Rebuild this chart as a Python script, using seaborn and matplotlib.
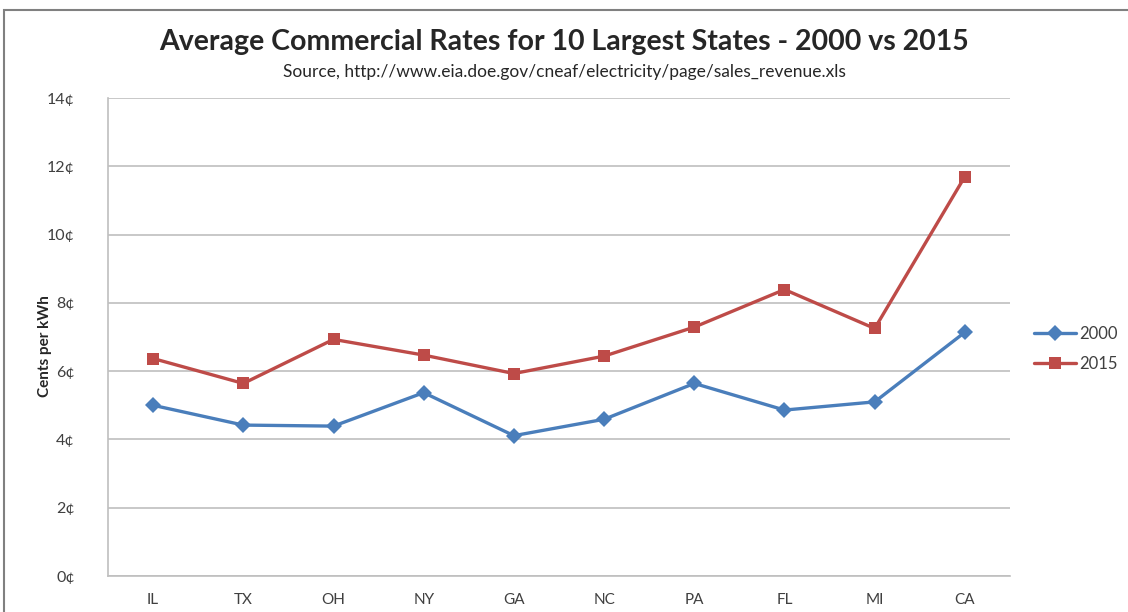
import numpy as np
import pandas as pd
from matplotlib import pyplot as plt
from matplotlib.patches import Rectangle
import seaborn as sns

states = ['IL', 'TX', 'OH', 'NY', 'GA', 'NC', 'PA', 'FL', 'MI', 'CA']
rates_2000 = [5.00, 4.42, 4.39, 5.37, 4.11, 4.59, 5.64, 4.86, 5.10, 7.14]
rates_2015 = [6.37, 5.64, 6.93, 6.47, 5.93, 6.44, 7.29, 8.39, 7.25, 11.70]
y_ticks = [0, 2, 4, 6, 8, 10, 12, 14]

df = pd.DataFrame({'State': states * 2,
                   'Rate': rates_2000 + rates_2015,
                   'Year': ['2000'] * 10 + ['2015'] * 10})

sns.set_style('white')
plt.rcParams['font.family'] = ['Lato', 'DejaVu Sans']

fig = plt.figure(figsize=(11.28, 6.12), dpi=100)
ax = fig.add_axes([108 / 1128, 1 - 576 / 612, 902 / 1128, 478 / 612])

palette = {'2000': '#4A7EBB', '2015': '#BE4B48'}
sns.lineplot(data=df, x='State', y='Rate', hue='Year', style='Year',
             markers={'2000': 'D', '2015': 's'}, dashes=False,
             palette=palette, linewidth=2.4, markersize=8.5,
             markeredgewidth=0, sort=False, ax=ax)

ax.set_xlim(-0.5, 9.5)
ax.set_ylim(0, 14)
ax.set_yticks(y_ticks)
ax.set_yticklabels([f'{t}¢' for t in y_ticks], fontsize=11.5, color='#404040')
ax.tick_params(axis='x', labelsize=11, colors='#404040', length=0, pad=12)
ax.tick_params(axis='y', length=0, pad=24)
ax.grid(axis='y', color='#BFBFBF', linewidth=1.2)
ax.set_axisbelow(True)
for s in ['top', 'right']:
    ax.spines[s].set_visible(False)
for s in ['left', 'bottom']:
    ax.spines[s].set_color('#BFBFBF')
    ax.spines[s].set_linewidth(1.2)

ax.set_xlabel('')
ax.set_ylabel('Cents per kWh', fontsize=11, fontweight='bold')
ax.yaxis.set_label_coords(-0.062, 0.48)

leg = ax.legend(loc='center left', bbox_to_anchor=(1.01, 0.475), frameon=False,
                fontsize=12, handlelength=2.5, labelspacing=0.85, handletextpad=0.2)
for t in leg.get_texts():
    t.set_color('#404040')

fig.text(0.5, 1 - 42 / 612, 'Average Commercial Rates for 10 Largest States - 2000 vs 2015',
         ha='center', va='center', fontsize=20.5, fontweight='bold')
fig.text(0.5, 1 - 72 / 612, 'Source, http://www.eia.doe.gov/cneaf/electricity/page/sales_revenue.xls',
         ha='center', va='center', fontsize=12.5)

fig.patches.append(Rectangle((4 / 1128, -0.1), 1.2, 1 - 10 / 612 + 0.1, transform=fig.transFigure,
                             fill=False, edgecolor='#808080', linewidth=1.5))

fig.savefig('out.png', dpi=100)
